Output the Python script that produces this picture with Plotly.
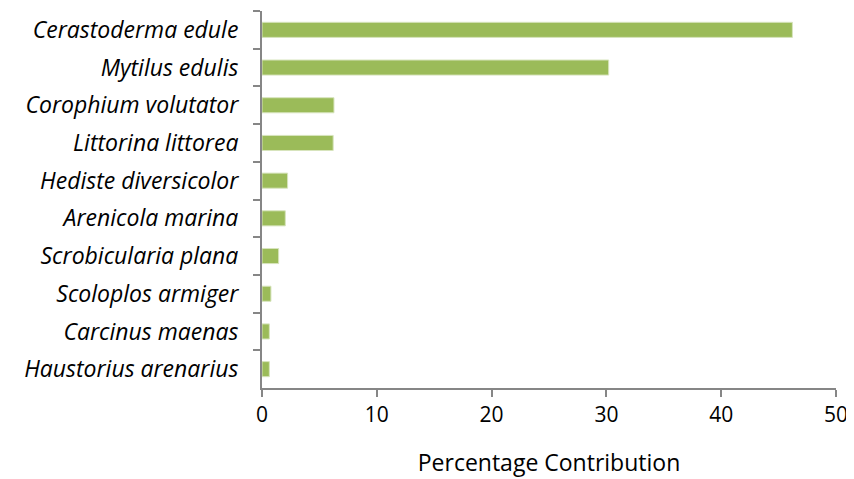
import plotly.graph_objects as go

species = ["Cerastoderma edule", "Mytilus edulis", "Corophium volutator", "Littorina littorea",
           "Hediste diversicolor", "Arenicola marina", "Scrobicularia plana", "Scoloplos armiger",
           "Carcinus maenas", "Haustorius arenarius"]
contribution = [46.2, 30.2, 6.27, 6.2, 2.23, 2.03, 1.45, 0.78, 0.64, 0.64]
x_ticks = [0, 10, 20, 30, 40, 50]

fig = go.Figure(go.Bar(
    y=species, x=contribution, orientation="h",
    marker=dict(color="#9BBB59", line=dict(color="#D7E4BD", width=1)),
))

# page body has an 8px default margin; figure is sized to fill the rest
fig.update_layout(
    width=846, height=471,
    margin=dict(l=254, r=18, t=3, b=91),
    plot_bgcolor="white", paper_bgcolor="white",
    bargap=0.6, showlegend=False,
    font=dict(family="Open Sans", color="black"),
)
fig.update_yaxes(
    type="category", autorange="reversed",
    showline=True, linecolor="#868686", linewidth=2,
    ticks="outside", tickson="boundaries", ticklen=7, tickcolor="#868686", tickwidth=2,
    ticklabelstandoff=17,
    showgrid=False, zeroline=False,
    tickfont=dict(family="Open Sans", size=23, style="italic"),
)
fig.update_xaxes(
    range=[0, 50], tickvals=x_ticks,
    showline=True, linecolor="#868686", linewidth=2,
    ticks="outside", ticklen=7, tickcolor="#868686", tickwidth=2,
    showgrid=False, zeroline=False,
    tickfont=dict(family="Open Sans", size=21),
    title=dict(text="Percentage Contribution", font=dict(family="Open Sans", size=23), standoff=28),
)

fig.write_html("out.html")
